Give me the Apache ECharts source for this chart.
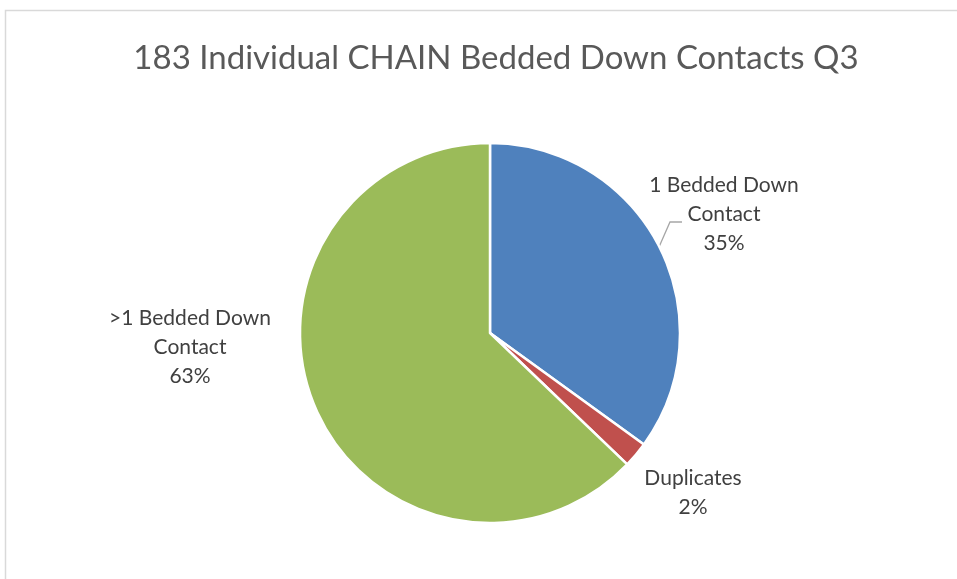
<!DOCTYPE html>
<html>
<head>
<meta charset="utf-8">
<script src="https://cdn.jsdelivr.net/npm/echarts@6/dist/echarts.min.js"></script>
<style>html,body{margin:0;padding:0;background:#fff;}#c{width:957px;height:579px;}</style>
</head>
<body>
<div id="c"></div>
<script>
const titleText = '183 Individual CHAIN Bedded Down Contacts Q3';
const categories = ['1 Bedded Down\nContact', 'Duplicates', '>1 Bedded Down\nContact'];
const values = [64, 4, 115];
const colors = ['#4F81BD', '#C0504D', '#9BBB59'];

const labelSpots = [
  { x: 724, y: 214 },
  { x: 693, y: 493 },
  { x: 190, y: 347 }
];

const chart = echarts.init(document.getElementById('c'), null, { renderer: 'canvas' });
const total = values.reduce((a, b) => a + b, 0);
chart.setOption({
  animation: false,
  backgroundColor: '#ffffff',
  title: {
    text: titleText,
    left: 491,
    textAlign: 'center',
    top: 37,
    textStyle: { fontFamily: 'Lato', fontSize: 33, fontWeight: 'normal', color: '#595959' }
  },
  graphic: [{
    type: 'rect',
    shape: { x: 5.5, y: 10.5, width: 1000, height: 1000 },
    style: { fill: 'none', stroke: '#d9d9d9', lineWidth: 1.5 },
    silent: true
  }],
  series: [{
    type: 'pie',
    center: [490, 333],
    radius: 190,
    startAngle: 90,
    clockwise: true,
    itemStyle: { borderColor: '#ffffff', borderWidth: 2.5 },
    label: {
      show: true,
      position: 'outside',
      formatter: p => p.name + '\n' + Math.round(p.value / total * 100) + '%',
      fontFamily: 'Lato',
      fontSize: 21,
      lineHeight: 29,
      color: '#404040',
      align: 'center'
    },
    labelLine: { show: true, length: 8, length2: 10, lineStyle: { color: '#a6a6a6', width: 1.3 } },
    labelLayout: p => {
      const s = labelSpots[p.dataIndex];
      const out = { x: s.x, y: s.y, align: 'center', verticalAlign: 'middle' };
      if (p.dataIndex === 0 && p.labelLinePoints) {
        out.labelLinePoints = [p.labelLinePoints[0], [s.x - 54, s.y + 8], [s.x - 42, s.y + 8]];
      }
      return out;
    },
    data: categories.map((c, i) => ({
      name: c,
      value: values[i],
      itemStyle: { color: colors[i] },
      labelLine: { show: i === 0 }
    }))
  }]
});
</script>
</body>
</html>
